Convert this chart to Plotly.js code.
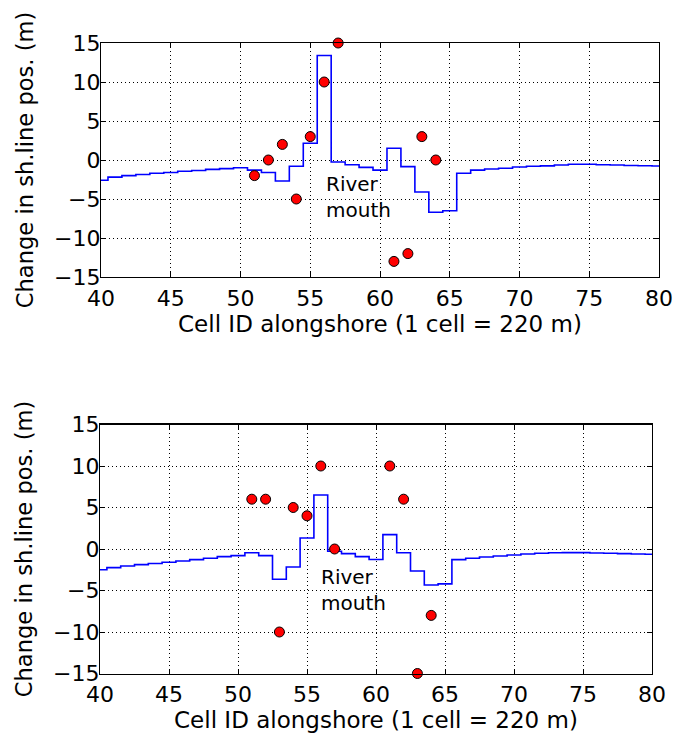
<!DOCTYPE html>
<html>
<head>
<meta charset="utf-8">
<script src="https://cdn.plot.ly/plotly-3.0.1.min.js"></script>
<style>html,body{margin:0;padding:0;background:#fff;}#chart{width:674px;height:734px;}</style>
</head>
<body>
<div id="chart"></div>
<script>
// Cell IDs for the model step lines
const cells = [40,41,42,43,44,45,46,47,48,49,50,51,52,53,54,55,56,57,58,59,60,61,62,63,64,65,66,67,68,69,70,71,72,73,74,75,76,77,78,79,80];
// Top panel: modelled change in shoreline position (m)
const modelTop = [-2.6,-2.2,-2.0,-1.85,-1.7,-1.6,-1.45,-1.35,-1.2,-1.1,-1.0,-1.3,-1.6,-2.7,-0.8,2.15,13.4,-0.25,-0.6,-0.95,-1.3,1.5,-0.85,-4.1,-6.7,-6.5,-1.7,-1.3,-1.15,-1.05,-0.9,-0.8,-0.75,-0.65,-0.55,-0.55,-0.6,-0.65,-0.7,-0.73,-0.77];
// Bottom panel: modelled change in shoreline position (m)
const modelBottom = [-2.5,-2.25,-2.05,-1.88,-1.75,-1.6,-1.44,-1.28,-1.12,-0.92,-0.8,-0.45,-0.8,-3.65,-2.17,1.33,6.5,-0.28,-0.56,-0.92,-1.26,1.73,-0.45,-2.65,-4.33,-4.2,-1.28,-1.12,-0.96,-0.84,-0.72,-0.6,-0.52,-0.45,-0.44,-0.44,-0.48,-0.52,-0.56,-0.6,-0.64];
// Observed points
const obsCells = [51,52,53,54,55,56,57,61,62,63,64];
const obsTop = [-2,0,2,-5,3,10,15,-13,-12,3,0];
const obsBottom = [6,6,-10,5,4,10,0,10,6,-15,-8];
const xTicks = [40,45,50,55,60,65,70,75,80];
const yTicks = [-15,-10,-5,0,5,10,15];
const xTitle = 'Cell ID alongshore (1 cell = 220 m)';
const yTitle = 'Change in sh.line pos. (m)';
const note = 'River<br>mouth';

const FONT = 'DejaVu Sans, sans-serif';
const lineStyle = {color: '#0000ff', width: 1.6, shape: 'hvh'};
const markerStyle = {color: '#ff0000', size: 10, line: {color: '#000', width: 1}};

const traces = [
  {x: cells, y: modelTop, type: 'scatter', mode: 'lines', line: lineStyle, xaxis: 'x', yaxis: 'y', hoverinfo: 'skip'},
  {x: obsCells, y: obsTop, type: 'scatter', mode: 'markers', marker: markerStyle, xaxis: 'x', yaxis: 'y', cliponaxis: false},
  {x: cells, y: modelBottom, type: 'scatter', mode: 'lines', line: lineStyle, xaxis: 'x2', yaxis: 'y2', hoverinfo: 'skip'},
  {x: obsCells, y: obsBottom, type: 'scatter', mode: 'markers', marker: markerStyle, xaxis: 'x2', yaxis: 'y2', cliponaxis: false}
];

function common() {
  return {
    ticks: 'inside', ticklen: 5, tickcolor: '#000', showline: true, linecolor: '#000', linewidth: 1.2, mirror: 'allticks',
    showgrid: true, gridcolor: '#000', griddash: '1px,3px', gridwidth: 1, zeroline: false,
    tickfont: {family: FONT, size: 22, color: '#000'}
  };
}
function xax(domain, anchor) {
  return Object.assign(common(), {
    domain: domain, anchor: anchor, range: [40, 80], tickvals: xTicks, ticktext: xTicks.map(String),
    ticklabelstandoff: 1,
    title: {text: xTitle, font: {family: FONT, size: 23, color: '#000'}, standoff: 3}
  });
}
function yax(domain, anchor) {
  return Object.assign(common(), {
    domain: domain, anchor: anchor, range: [-15, 15], tickvals: yTicks,
    ticklabelstandoff: -5,
    title: {text: yTitle, font: {family: FONT, size: 22.6, color: '#000'}, standoff: 14}
  });
}

const layout = {
  width: 674, height: 734,
  margin: {l: 0, r: 0, t: 0, b: 0},
  paper_bgcolor: '#fff', plot_bgcolor: '#fff',
  showlegend: false,
  font: {family: FONT, color: '#000'},
  xaxis: xax([101/674, 659/674], 'y'),
  yaxis: yax([1 - 277/734, 1 - 43/734], 'x'),
  xaxis2: xax([100/674, 652/674], 'y2'),
  yaxis2: yax([1 - 673.5/734, 1 - 424.5/734], 'x2'),
  annotations: [
    {x: 56, y: -4.8, xref: 'x', yref: 'y', text: note, showarrow: false, xanchor: 'left', yanchor: 'middle', align: 'left', font: {family: FONT, size: 20, color: '#000'}},
    {x: 55.85, y: -4.9, xref: 'x2', yref: 'y2', text: note, showarrow: false, xanchor: 'left', yanchor: 'middle', align: 'left', font: {family: FONT, size: 20, color: '#000'}}
  ]
};

Plotly.newPlot('chart', traces, layout, {displayModeBar: false, staticPlot: true});
</script>
</body>
</html>
